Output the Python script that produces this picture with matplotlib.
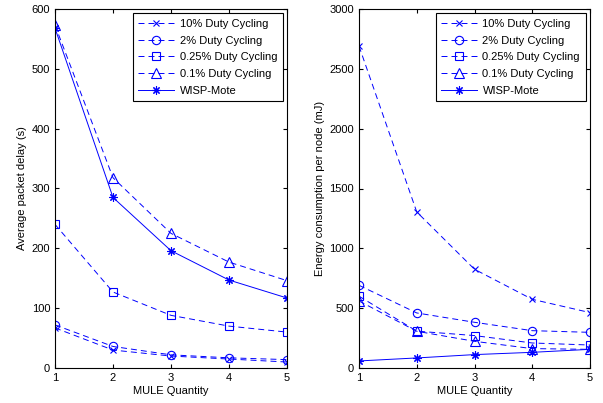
import matplotlib.pyplot as plt
import numpy as np

plt.rcParams['font.family'] = ['Liberation Sans', 'DejaVu Sans']
plt.rcParams['lines.scale_dashes'] = False

mules = [1, 2, 3, 4, 5]
labels = ['10% Duty Cycling', '2% Duty Cycling', '0.25% Duty Cycling',
          '0.1% Duty Cycling', 'WISP-Mote']

# average packet delay (s)
delay_10 = [67, 30, 20, 15, 10]
delay_2 = [72, 36, 22, 17, 14]
delay_025 = [240, 127, 88, 70, 60]
delay_01 = [573, 318, 225, 177, 146]
delay_wisp = [568, 285, 196, 147, 117]

# energy consumption per node (mJ)
energy_10 = [2690, 1304, 825, 574, 463]
energy_2 = [691, 460, 382, 312, 298]
energy_025 = [600, 308, 271, 209, 192]
energy_01 = [560, 307, 223, 162, 156]
energy_wisp = [59, 84, 112, 131, 156]

markers = ['x', 'o', 's', '^', (8, 2, 0)]
sizes = [4, 6, 6, 7, 6]
styles = ['--', '--', '--', '--', '-']
dash = (4.3, 2.9)

fig = plt.figure(figsize=(6.03, 4.03), dpi=100)
ax1 = fig.add_axes([55 / 603, 1 - 368 / 403, 232 / 603, 359 / 403])
ax2 = fig.add_axes([359 / 603, 1 - 368 / 403, 231 / 603, 359 / 403])

def draw(ax, series, ylim, yticks, ylabel):
    for vals, m, ms, ls, lab in zip(series, markers, sizes, styles, labels):
        line, = ax.plot(mules, vals, linestyle=ls, marker=m, color='blue',
                        markerfacecolor='none', markersize=ms, linewidth=0.7,
                        markeredgewidth=0.8, label=lab)
        if ls == '--':
            line.set_dashes(dash)
    ax.set_xlim(1, 5)
    ax.set_ylim(*ylim)
    ax.set_xticks(mules)
    ax.set_yticks(yticks)
    ax.tick_params(direction='in', top=True, right=True, labelsize=8, length=3)
    ax.set_xlabel('MULE Quantity', fontsize=8, labelpad=2)
    ax.set_ylabel(ylabel, fontsize=8, labelpad=3)
    leg = ax.legend(loc='upper right', fontsize=8, fancybox=False,
                    edgecolor='black', framealpha=1, handlelength=3.2,
                    borderaxespad=0.4, labelspacing=0.6, borderpad=0.5,
                    handletextpad=0.5)
    leg.get_frame().set_linewidth(0.8)

draw(ax1, [delay_10, delay_2, delay_025, delay_01, delay_wisp],
     (0, 600), range(0, 601, 100), 'Average packet delay (s)')
draw(ax2, [energy_10, energy_2, energy_025, energy_01, energy_wisp],
     (0, 3000), range(0, 3001, 500), 'Energy consumption per node (mJ)')

fig.savefig('out.png', dpi=100)
